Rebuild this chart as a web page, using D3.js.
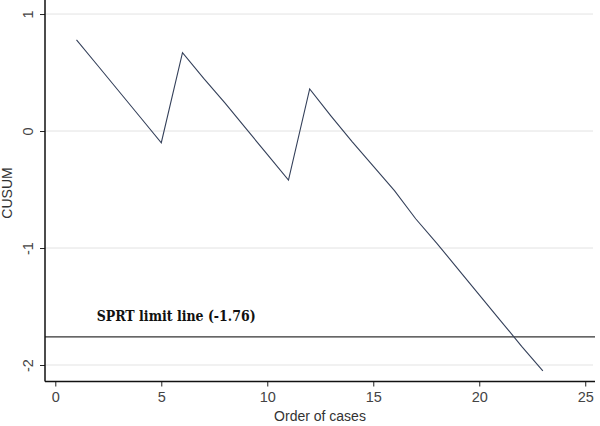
<!DOCTYPE html>
<html>
<head>
<meta charset="utf-8">
<script src="https://cdn.jsdelivr.net/npm/d3@7"></script>
<style>
  body { margin: 0; background: #fff; }
  svg { display: block; }
  .tick text { font-family: Arial, "Liberation Sans", sans-serif; fill: #444; }
</style>
</head>
<body>
<svg width="600" height="426"></svg>
<script>
const cases = [1,2,3,4,5,6,7,8,9,10,11,12,13,14,15,16,17,18,19,20,21,22,23];
const cusum = [0.78,0.56,0.34,0.12,-0.10,0.67,0.45,0.24,0.02,-0.20,-0.42,0.36,0.13,-0.09,-0.30,-0.51,-0.75,-0.96,-1.18,-1.40,-1.62,-1.84,-2.05];
const xTicks = [0,5,10,15,20,25];
const yTicks = [-2,-1,0,1];
const limit = -1.76;
const limitLabel = 'SPRT limit line (-1.76)';

const svg = d3.select('svg');
const plotLeft = 45, plotRight = 595, plotTop = 0, plotBottom = 381.5;

const x = d3.scaleLinear().domain([-0.486, 25.46]).range([plotLeft, plotRight]);
const y = d3.scaleLinear().domain([-2.141, 1.12]).range([plotBottom, plotTop]);

// grid
svg.append('g')
  .selectAll('line')
  .data(yTicks)
  .enter().append('line')
    .attr('x1', plotLeft).attr('x2', 593)
    .attr('y1', d => y(d)).attr('y2', d => y(d))
    .attr('stroke', '#e3e3e3')
    .attr('stroke-width', 1);

// limit line
svg.append('line')
  .attr('x1', plotLeft).attr('x2', plotRight)
  .attr('y1', y(limit)).attr('y2', y(limit))
  .attr('stroke', '#333')
  .attr('stroke-width', 1.3);

svg.append('text')
  .attr('x', x(1.95)).attr('y', y(-1.62))
  .attr('font-family', '"DejaVu Serif", "Liberation Serif", serif')
  .attr('font-weight', 'bold')
  .attr('font-size', 14.5)
  .attr('textLength', 159)
  .attr('lengthAdjust', 'spacingAndGlyphs')
  .attr('fill', '#111')
  .text(limitLabel);

// series
const line = d3.line().x((d, i) => x(cases[i])).y(d => y(d));
svg.append('path')
  .datum(cusum)
  .attr('d', line)
  .attr('fill', 'none')
  .attr('stroke', '#34405a')
  .attr('stroke-width', 1.1);

// axes
const xAxis = svg.append('g')
  .attr('transform', `translate(0,${plotBottom})`)
  .call(d3.axisBottom(x).tickValues(xTicks).tickSize(5).tickPadding(5).tickFormat(String));
xAxis.select('.domain').remove();
xAxis.append('line')
  .attr('x1', plotLeft).attr('x2', plotRight)
  .attr('stroke', '#111').attr('stroke-width', 1.5);
xAxis.selectAll('.tick line').attr('stroke', '#222');
xAxis.selectAll('.tick text').attr('font-size', 14.5);

const yAxis = svg.append('g')
  .attr('transform', `translate(${plotLeft},0)`)
  .call(d3.axisLeft(y).tickValues(yTicks).tickSize(5).tickFormat(String));
yAxis.select('.domain').remove();
yAxis.append('line')
  .attr('y1', plotTop).attr('y2', plotBottom)
  .attr('stroke', '#111').attr('stroke-width', 1.5);
yAxis.selectAll('.tick line').attr('stroke', '#222');
yAxis.selectAll('.tick text')
  .attr('font-size', 14.5)
  .attr('x', null)
  .attr('text-anchor', 'middle')
  .attr('transform', 'translate(-17,0) rotate(-90)')
  .attr('dy', '0.35em');

// titles
svg.append('text')
  .attr('x', 320).attr('y', 421)
  .attr('text-anchor', 'middle')
  .attr('font-family', 'Arial, "Liberation Sans", sans-serif')
  .attr('font-size', 14)
  .attr('fill', '#333')
  .text('Order of cases');

svg.append('text')
  .attr('transform', 'translate(12,193) rotate(-90)')
  .attr('text-anchor', 'middle')
  .attr('font-family', 'Arial, "Liberation Sans", sans-serif')
  .attr('font-size', 14)
  .attr('fill', '#333')
  .text('CUSUM');
</script>
</body>
</html>
